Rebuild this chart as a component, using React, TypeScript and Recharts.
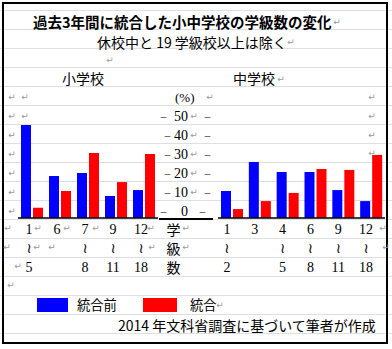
import React from 'react';
import { BarChart, Bar, XAxis, YAxis } from 'recharts';

// ---- data ----
const elemCategories = ['1〜5', '6', '7〜8', '9〜11', '12〜18'];
const elemBefore = [48.9, 22.1, 23.7, 11.6, 14.7];
const elemAfter = [5.4, 14.2, 34.2, 18.9, 33.7];

const juniorCategories = ['1〜2', '3', '4〜5', '6〜8', '9〜11', '12〜18'];
const juniorBefore = [14.2, 29.5, 24.2, 24.2, 14.7, 8.9];
const juniorAfter = [4.7, 8.9, 13.2, 25.8, 25.3, 33.2];

const yTicks = [0, 10, 20, 30, 40, 50];
const seriesNames = ['統合前', '統合'];
const title = '過去3年間に統合した小中学校の学級数の変化';
const subtitle = '休校中と 19 学級校以上は除く';
const panelTitles = ['小学校', '中学校'];
const axisUnit = '(%)';
const axisTitleChars = ['学', '級', '数'];
const source = '2014 年文科省調査に基づいて筆者が作成';

const elemData = elemCategories.map((cat, i) => ({ cat, before: elemBefore[i], after: elemAfter[i] }));
const juniorData = juniorCategories.map((cat, i) => ({ cat, before: juniorBefore[i], after: juniorAfter[i] }));

// ---- styles ----
const BLUE = '#0000ff';
const RED = '#ff0000';
const CJK = '"Noto Sans CJK JP", sans-serif';
const SERIF = '"Liberation Serif", serif';
const MARK = '#9a9a9a';
const BASE = 218; // plot bottom (chart coords, both charts at top 0)
const CHART_H = 349;

const T = ({ x, y, children, size = 14, weight = 400, font = CJK, color = '#000', center = false }: any) => (
  <div
    style={{
      position: 'absolute',
      left: x,
      top: y,
      transform: center ? 'translate(-50%,-50%)' : 'translateY(-50%)',
      fontFamily: font,
      fontSize: size,
      fontWeight: weight,
      lineHeight: 1,
      color,
      whiteSpace: 'nowrap',
    }}
  >
    {children}
  </div>
);

const marks: [number, number][] = [
  [337, 22], [291, 42], [110, 60], [281, 79],
  [12, 97], [25, 97], [12, 116], [25, 116], [12, 135], [12, 154], [12, 173], [12, 192], [12, 211],
  [210, 97], [372, 97], [372, 116], [372, 135], [372, 153],
  [8, 228], [38, 228], [67, 228], [96, 228], [151, 228], [186, 228], [383, 228],
  [7, 247], [37, 247], [52, 247], [152, 247], [186, 247], [386, 247],
  [18, 266], [11, 285], [220, 305],
];

const makeXTick = (dx: number) => (props: any) => {
  const { x, payload } = props;
  const parts = String(payload.value).split('〜');
  const cx = x + dx;
  const common = { textAnchor: 'middle' as const, dominantBaseline: 'central' as const, fill: '#000' };
  return (
    <g>
      <text x={cx} y={BASE + 11} fontFamily={SERIF} fontSize={14} {...common}>{parts[0]}</text>
      {parts.length > 1 && (
        <>
          <text x={cx} y={BASE + 30} fontFamily='"DejaVu Sans", sans-serif' fontSize={14} {...common}>≀</text>
          <text x={cx} y={BASE + 49} fontFamily={SERIF} fontSize={14} {...common}>{parts[1]}</text>
        </>
      )}
    </g>
  );
};

const YTick = (props: any) => {
  const { y, payload } = props;
  const v = payload.value;
  const ty = y - 7;
  const wide = v === 50 || v === 0;
  const c = { dominantBaseline: 'central' as const, fill: '#000' };
  return (
    <g>
      <text x={wide ? 163.5 : 167.5} y={ty} textAnchor="middle" fontFamily={SERIF} fontSize={11} {...c}>–</text>
      <text x={188} y={ty} textAnchor="end" fontFamily={SERIF} fontSize={14} {...c}>{v}</text>
      {v !== 0 && (
        <text x={194} y={ty} textAnchor="middle" fontFamily='"DejaVu Sans", sans-serif' fontSize={9} dominantBaseline="central" fill={MARK}>↵</text>
      )}
      <text x={v === 0 ? 202.5 : 207.5} y={ty} textAnchor="middle" fontFamily={SERIF} fontSize={11} {...c}>–</text>
    </g>
  );
};

export default function App() {
  return (
    <div style={{ position: 'absolute', left: 0, top: 0, width: 392, height: 349, background: '#fff', overflow: 'hidden' }}>
      {/* page grid lines */}
      {Array.from({ length: 18 }, (_, k) => (
        <div key={k} style={{ position: 'absolute', left: 0, top: 10 + 19 * k, width: 392, height: 1, background: '#dedee6' }} />
      ))}
      {/* frame */}
      <div style={{ position: 'absolute', left: 2, top: 2, width: 386, height: 342, border: '2px solid #000', boxSizing: 'border-box' }} />

      <T x={33} y={22} size={14.5} weight={700}>{title}</T>
      <T x={97} y={41.5}>{subtitle}</T>
      <T x={62} y={78}>{panelTitles[0]}</T>
      <T x={233} y={78}>{panelTitles[1]}</T>
      <T x={175} y={97} size={13} font={SERIF}>{axisUnit}</T>
      {axisTitleChars.map((ch, i) => (
        <T key={ch} x={173.5} y={228.5 + 19 * i} center>{ch}</T>
      ))}

      {/* left: elementary */}
      <div style={{ position: 'absolute', left: 0, top: 0 }}>
        <BarChart width={218} height={CHART_H} data={elemData} margin={{ top: 123, right: 0, bottom: 0, left: 18 }} barSize={10} barGap={2}>
          <XAxis dataKey="cat" height={131} axisLine={{ stroke: '#000', strokeWidth: 1.5 }} tickLine={false} interval={0} tick={makeXTick(-3)} />
          <YAxis orientation="right" width={60} type="number" domain={[0, 50]} ticks={yTicks} interval={0} axisLine={false} tickLine={false} tick={YTick} allowDataOverflow />
          <Bar dataKey="before" name={seriesNames[0]} fill={BLUE} isAnimationActive={false} />
          <Bar dataKey="after" name={seriesNames[1]} fill={RED} isAnimationActive={false} />
        </BarChart>
      </div>

      {/* center axis line segment */}
      <div style={{ position: 'absolute', left: 159, top: 218, width: 54, height: 1.5, background: '#000' }} />

      {/* right: junior high */}
      <div style={{ position: 'absolute', left: 218, top: 0 }}>
        <BarChart width={170} height={CHART_H} data={juniorData} margin={{ top: 123, right: 3, bottom: 0, left: 0 }} barSize={10} barGap={2}>
          <XAxis dataKey="cat" height={131} axisLine={{ stroke: '#000', strokeWidth: 1.5 }} tickLine={false} interval={0} tick={makeXTick(-5)} />
          <YAxis hide type="number" domain={[0, 50]} ticks={yTicks} allowDataOverflow />
          <Bar dataKey="before" name={seriesNames[0]} fill={BLUE} isAnimationActive={false} />
          <Bar dataKey="after" name={seriesNames[1]} fill={RED} isAnimationActive={false} />
        </BarChart>
      </div>

      {/* legend */}
      <div style={{ position: 'absolute', left: 37, top: 298, width: 31, height: 14, background: BLUE }} />
      <T x={77} y={305} size={13.3}>{seriesNames[0]}</T>
      <div style={{ position: 'absolute', left: 143, top: 298, width: 34, height: 14, background: RED }} />
      <T x={190} y={305} size={13.3}>{seriesNames[1]}</T>

      <T x={118} y={325}>{source}</T>

      {/* paragraph marks */}
      {marks.map(([x, y], i) => (
        <T key={i} x={x} y={y} size={9} font='"DejaVu Sans", sans-serif' color={MARK} center>↵</T>
      ))}
    </div>
  );
}
